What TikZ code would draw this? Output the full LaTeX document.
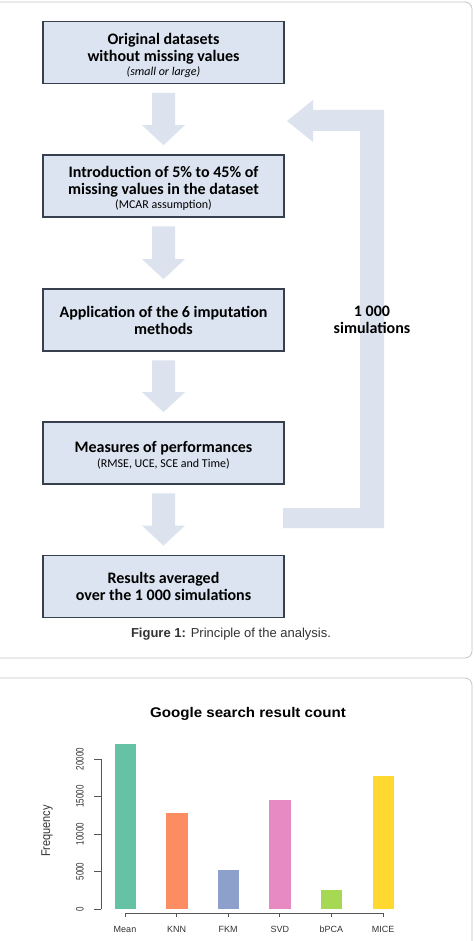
\documentclass[tikz,border=0pt]{standalone}
\usepackage{fontspec}
\setmainfont{Carlito}
\newfontfamily\arialf{Liberation Sans}
\usetikzlibrary{calc}
\newcommand\subtxtfont{\normalfont\fontsize{12}{13}\selectfont}
\newcommand\topstrut{\rule{0pt}{16.5pt}}
\definecolor{boxfill}{HTML}{DBE4F0}
\definecolor{boxline}{HTML}{36404F}
\definecolor{arrowc}{HTML}{DCE3EE}
\definecolor{panelline}{HTML}{C4C4C4}
\definecolor{axisc}{HTML}{555555}
\definecolor{txtc}{HTML}{333333}
\definecolor{cMean}{HTML}{66C2A5}
\definecolor{cKNN}{HTML}{FC8D62}
\definecolor{cFKM}{HTML}{8DA0CB}
\definecolor{cSVD}{HTML}{E78AC3}
\definecolor{cbPCA}{HTML}{A6D854}
\definecolor{cMICE}{HTML}{FFD92F}
\begin{document}
\begin{tikzpicture}[x=1pt,y=-1pt,
  stepbox/.style={draw=boxline, line width=1.8pt, fill=boxfill, minimum width=241pt, minimum height=62pt, inner sep=0pt, align=center, font=\bfseries\fontsize{16}{17}\selectfont},
  panel/.style={draw=panelline, line width=0.8pt},
  ticklab/.style={font=\arialf\fontsize{8}{9}\selectfont, text=txtc, inner sep=0pt},
  xlab/.style={font=\arialf\fontsize{9}{10}\selectfont, text=txtc, inner sep=0pt}]
\useasboundingbox (0,0) rectangle (474,941);
\clip (0,0) rectangle (474,941);
\fill[white] (0,0) rectangle (474,941);
% panels
\draw[panel] (-5,2) -- (465,2) arc[start angle=-90,end angle=0,radius=7] -- (472,651) arc[start angle=0,end angle=90,radius=7] -- (-5,658);
\draw[panel] (-5,678) -- (465,678) arc[start angle=-90,end angle=0,radius=7] -- (472,950);
% boxes
\node[stepbox] (b1) at (163.5,52.5) {\topstrut Original datasets\\without missing values\\[-3pt]{\subtxtfont\itshape (small or large)}};
\node[stepbox] (b2) at (163.5,186) {\topstrut Introduction of 5\% to 45\% of\\missing values in the dataset\\[-3pt]{\subtxtfont (MCAR assumption)}};
\node[stepbox] (b3) at (163.5,320) {Application of the 6 imputation\\methods};
\node[stepbox] (b4) at (163.5,453) {\topstrut Measures of performances\\[-2pt]{\subtxtfont (RMSE, UCE, SCE and Time)}};
\node[stepbox] (b5) at (163.5,586.5) {Results averaged\\over the 1 000 simulations};
% block arrows
\foreach \a/\b in {b1/b2,b2/b3,b3/b4,b4/b5}{
  \fill[arrowc] ($(\a.south)+(-11.5,8.5)$) -- ($(\a.south)+(11.5,8.5)$) -- ($(\b.north)+(11.5,-29)$) -- ($(\b.north)+(21.5,-29)$) -- ($(\b.north)+(0,-9)$) -- ($(\b.north)+(-21.5,-29)$) -- ($(\b.north)+(-11.5,-29)$) -- cycle;
}
% loop arrow
\coordinate (lstart) at (283,508);
\coordinate (ltip) at (287,121);
\fill[arrowc] (lstart) -- (360,508) -- (360,131) -- (313,131) -- (313,142) -- (ltip) -- (313,100) -- (313,110) -- (384,110) -- (384,528) -- (283,528) -- cycle;
\node[font=\bfseries\fontsize{16}{17}\selectfont, align=center] (sim) at (372,319.5) {1 000\\simulations};
% caption
\node[font=\arialf\fontsize{13}{15}\selectfont, text=txtc] (cap) at (231,634) {\textbf{Figure 1:} Principle of the analysis.};
% chart
\node[font=\arialf\bfseries\fontsize{14}{16}\selectfont, text=black] (title) at (248,714) {\scalebox{1.08}[1]{Google search result count}};
\draw[axisc, line width=0.8pt] (101,759) -- (101,909);
\foreach \v/\lab in {0/0,5/5000,10/10000,15/15000,20/20000}{
  \draw[axisc, line width=0.8pt] (94,909-\v*7.5) -- (101,909-\v*7.5);
  \node[ticklab, rotate=90] at (80,909-\v*7.5) {\scalebox{1}[1.35]{\lab}};
}
\node[font=\arialf\fontsize{11}{12}\selectfont, text=txtc, rotate=90, inner sep=0pt] (freq) at (47,831) {\scalebox{1}[1.15]{Frequency}};
\draw[axisc, line width=0.8pt] (125,913) -- (383,913);
\foreach \i/\val/\col/\lab in {0/22/cMean/Mean,1/12.8/cKNN/KNN,2/5.2/cFKM/FKM,3/14.5/cSVD/SVD,4/2.6/cbPCA/bPCA,5/17.7/cMICE/MICE}{
  \fill[\col] (114.5+\i*51.6,909) rectangle (136+\i*51.6,909-\val*7.5);
  \draw[axisc, line width=0.8pt] (125+\i*51.6,913) -- (125+\i*51.6,917);
  \node[xlab] at (125+\i*51.6,929) {\lab};
}
\end{tikzpicture}
\end{document}
